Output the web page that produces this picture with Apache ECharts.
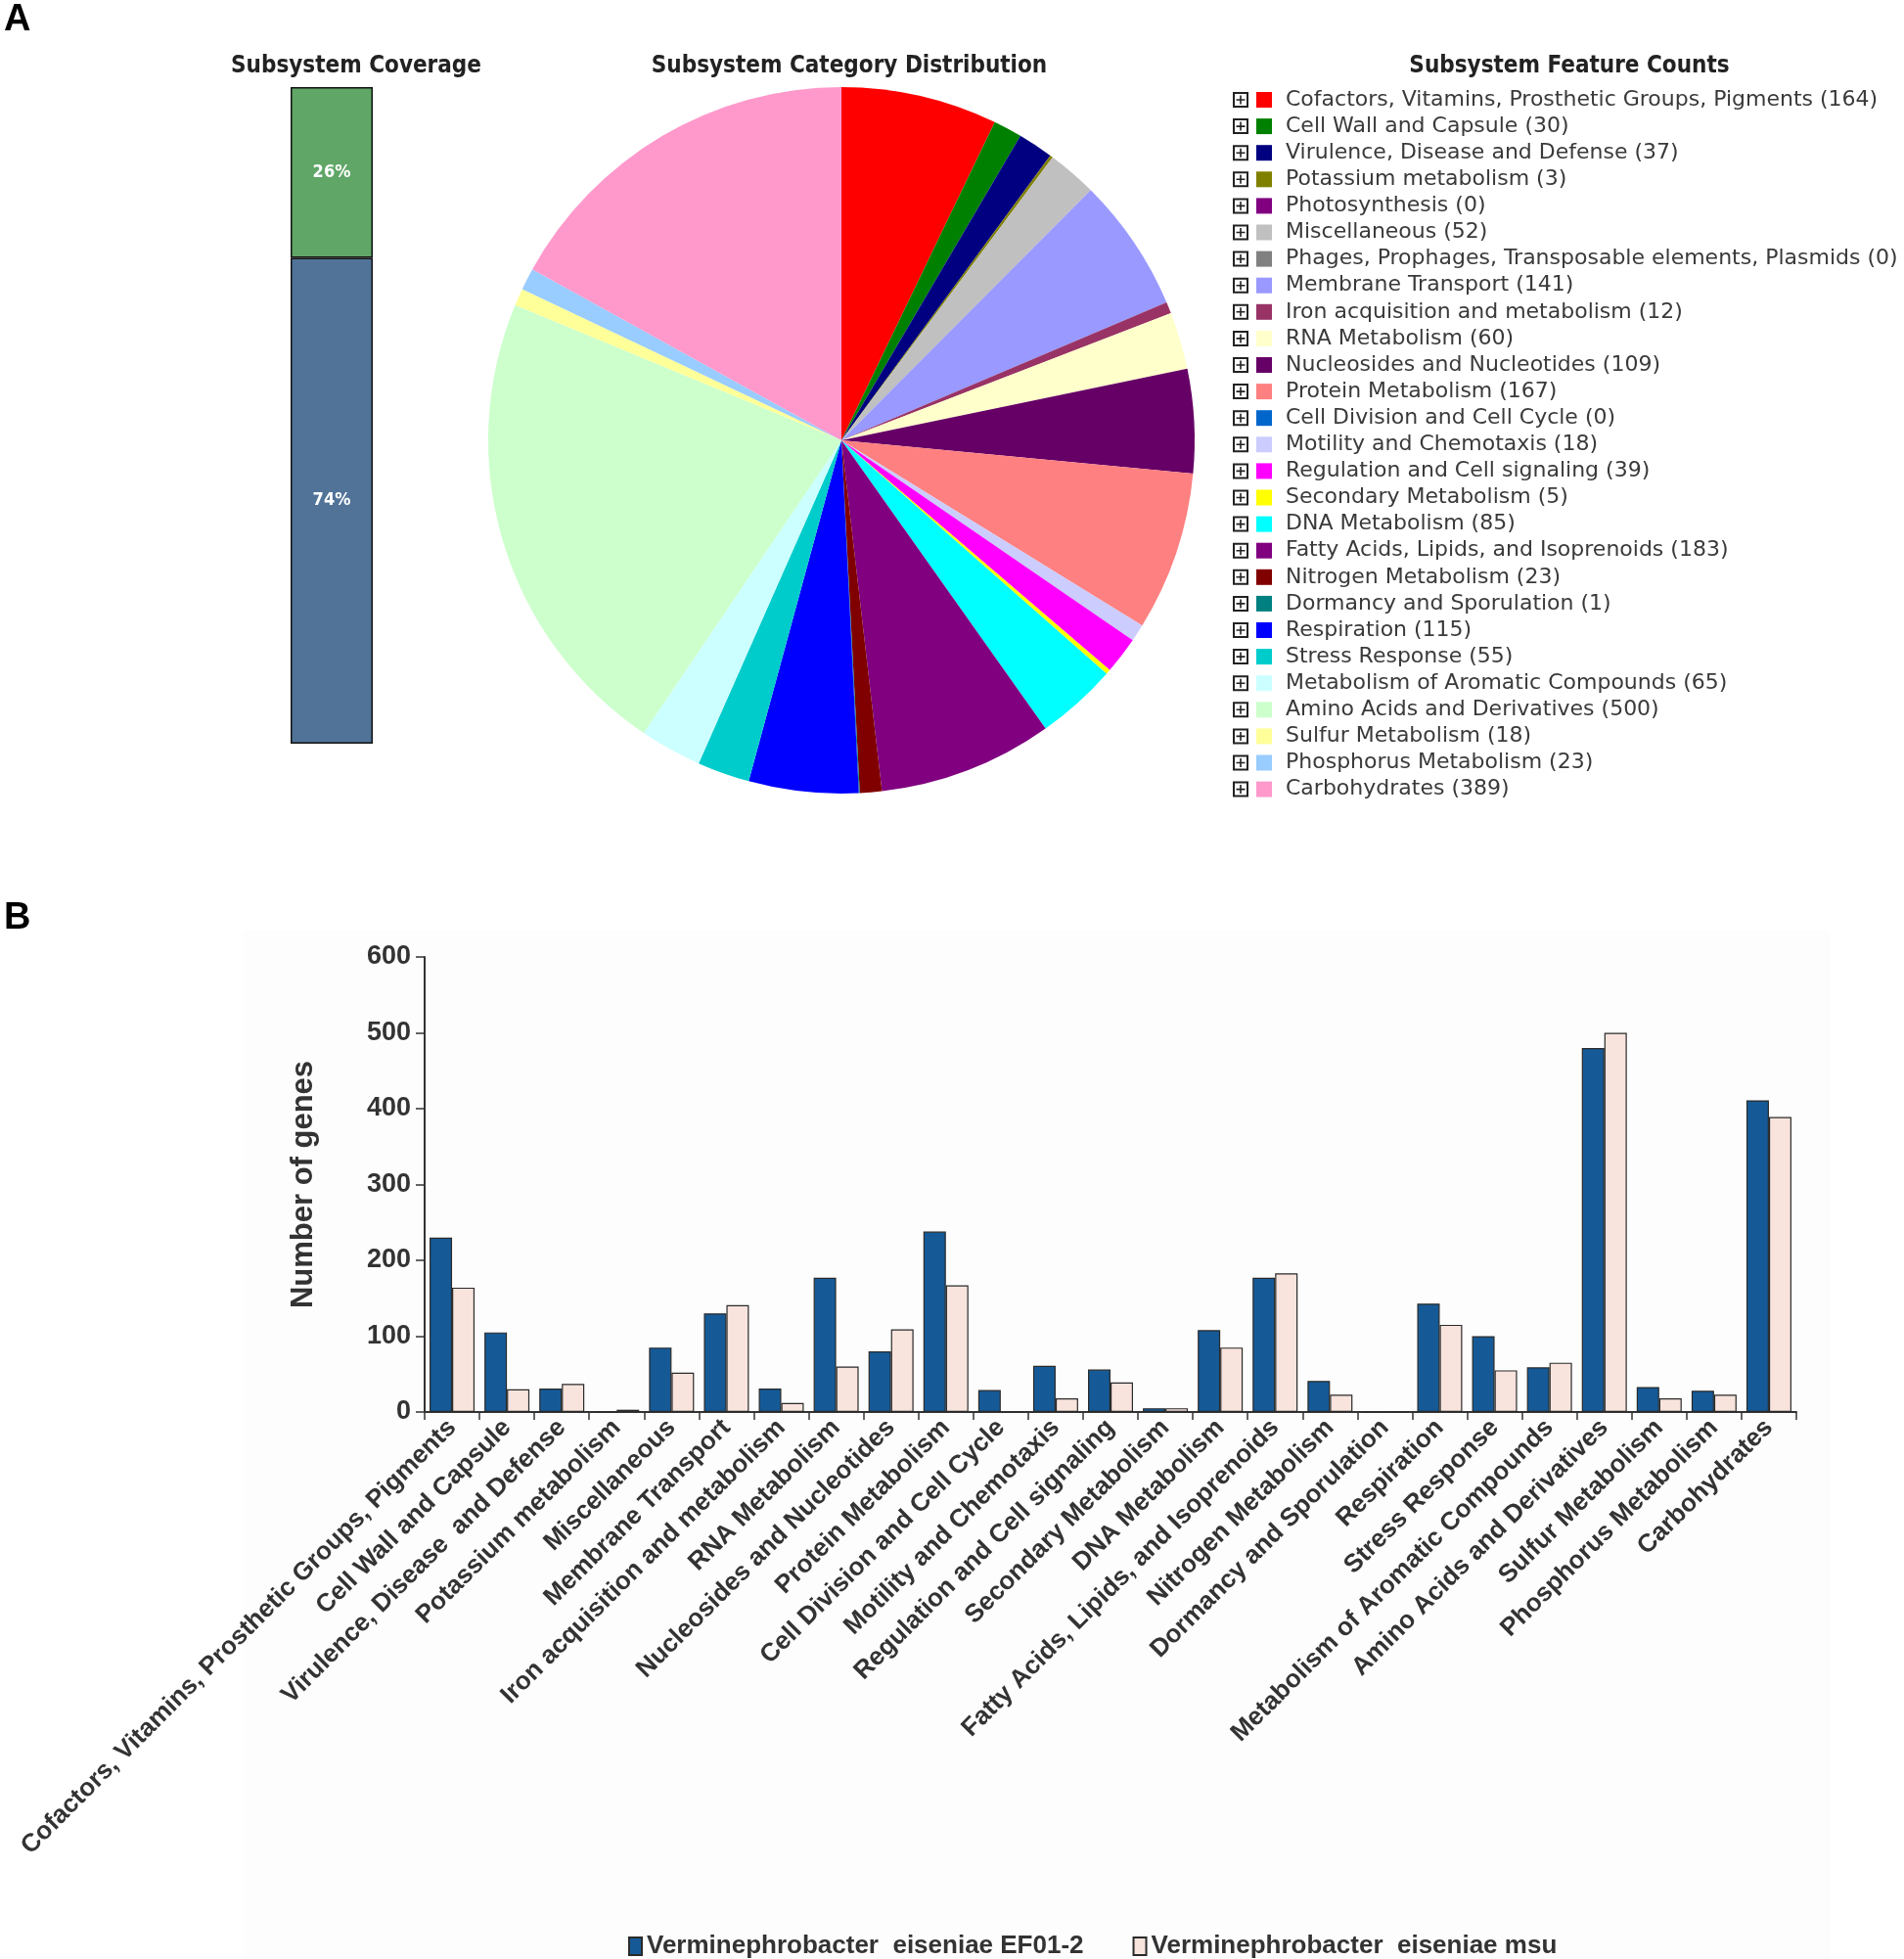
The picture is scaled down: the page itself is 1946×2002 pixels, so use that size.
<!DOCTYPE html>
<html>
<head>
<meta charset="utf-8">
<script src="https://cdn.jsdelivr.net/npm/echarts@6/dist/echarts.min.js"></script>
<style>
html,body{margin:0;padding:0;background:#fff;}
#chart{width:1946px;height:2002px;}
</style>
</head>
<body>
<div id="chart"></div>
<script>
// ---- Panel A: pie categories, counts, colours ----
var pieCategories = [
  'Cofactors, Vitamins, Prosthetic Groups, Pigments','Cell Wall and Capsule','Virulence, Disease and Defense',
  'Potassium metabolism','Photosynthesis','Miscellaneous','Phages, Prophages, Transposable elements, Plasmids',
  'Membrane Transport','Iron acquisition and metabolism','RNA Metabolism','Nucleosides and Nucleotides',
  'Protein Metabolism','Cell Division and Cell Cycle','Motility and Chemotaxis','Regulation and Cell signaling',
  'Secondary Metabolism','DNA Metabolism','Fatty Acids, Lipids, and Isoprenoids','Nitrogen Metabolism',
  'Dormancy and Sporulation','Respiration','Stress Response','Metabolism of Aromatic Compounds',
  'Amino Acids and Derivatives','Sulfur Metabolism','Phosphorus Metabolism','Carbohydrates'
];
var pieCounts = [164,30,37,3,0,52,0,141,12,60,109,167,0,18,39,5,85,183,23,1,115,55,65,500,18,23,389];
var pieColors = ['#FF0000','#008000','#000080','#808000','#800080','#C0C0C0','#808080','#9999FF','#993366',
  '#FFFFCC','#660066','#FF8080','#0066CC','#CCCCFF','#FF00FF','#FFFF00','#00FFFF','#800080','#800000',
  '#008080','#0000FF','#00CCCC','#CCFFFF','#CCFFCC','#FFFF99','#99CCFF','#FF99CC'];

// ---- Panel A: subsystem coverage ----
var coverageNames = ['Not in subsystems','In subsystems'];
var coverageValues = [74, 26];
var coverageColors = ['#517398','#5FA667'];

// ---- Panel B: bar chart ----
var barCategories = [
  'Cofactors, Vitamins, Prosthetic Groups, Pigments','Cell Wall and Capsule','Virulence, Disease  and Defense',
  'Potassium metabolism','Miscellaneous','Membrane Transport','Iron acquisition and metabolism','RNA Metabolism',
  'Nucleosides and Nucleotides','Protein Metabolism','Cell Division and Cell Cycle','Motility and Chemotaxis',
  'Regulation and Cell signaling','Secondary Metabolism','DNA Metabolism','Fatty Acids, Lipids, and Isoprenoids',
  'Nitrogen Metabolism','Dormancy and Sporulation','Respiration','Stress Response',
  'Metabolism of Aromatic Compounds','Amino Acids and Derivatives','Sulfur Metabolism','Phosphorus Metabolism','Carbohydrates'
];
var seriesNames = ['Verminephrobacter  eiseniae EF01-2','Verminephrobacter  eiseniae msu'];
var ef01Values = [230,105,31,0,85,130,31,177,80,238,29,61,56,5,108,177,41,0,143,100,59,480,33,28,411];
var msuValues  = [164,30,37,3,52,141,12,60,109,167,0,18,39,5,85,183,23,1,115,55,65,500,18,23,389];
var yTicks = [0,100,200,300,400,500,600];

var chart = echarts.init(document.getElementById('chart'), null, {renderer:'canvas'});

var pieData = pieCategories.map(function(n,i){
  return {name:n, value:pieCounts[i], itemStyle:{color:pieColors[i]}};
});
var countMap = {};
pieCategories.forEach(function(n,i){countMap[n]=pieCounts[i];});

var plusIcon = 'path://M0,0H16V16H0Z M2,2V14H14V2Z M3.5,7.2H12.5V8.8H3.5Z M7.2,3.5H8.8V12.5H7.2Z';
var arial = '"Liberation Sans", Arial, Helvetica, sans-serif';
var titleFont = 'bold 24px "DejaVu Sans Condensed", "DejaVu Sans", sans-serif';

var option = {
  backgroundColor:'#ffffff',
  animation:false,
  graphic:[
    {type:'rect', z:-10, shape:{x:249, y:951, width:1622, height:1051}, style:{fill:'#FDFDFD'}, silent:true},
    {type:'text', left:4, top:2, style:{text:'A', font:'bold 38px ' + arial, fill:'#000'}},
    {type:'text', left:4, top:920, style:{text:'B', font:'bold 38px ' + arial, fill:'#000'}},
    {type:'text', x:364, y:68, style:{text:'Subsystem Coverage', font:titleFont, fill:'#222', align:'center', verticalAlign:'middle'}},
    {type:'text', x:868, y:68, style:{text:'Subsystem Category Distribution', font:titleFont, fill:'#222', align:'center', verticalAlign:'middle'}},
    {type:'text', x:1604, y:68, style:{text:'Subsystem Feature Counts', font:titleFont, fill:'#222', align:'center', verticalAlign:'middle'}}
  ],
  legend:[
    {
      seriesIndex:0,
      data:pieCategories,
      orient:'vertical', left:1284, top:91, padding:0,
      itemWidth:16, itemHeight:16, itemGap:5.1,
      icon:'rect', selectedMode:false,
      textStyle:{fontFamily:'"DejaVu Sans", Verdana, sans-serif', fontSize:22, color:'#3a3a3a', lineHeight:22, padding:[0,0,0,9]},
      formatter:function(n){return n+' ('+countMap[n]+')';}
    },
    {
      data:pieCategories,
      orient:'vertical', left:1260, top:94, padding:0,
      itemWidth:16, itemHeight:16, itemGap:11.1,
      icon:plusIcon, selectedMode:false,
      itemStyle:{color:'#222', borderWidth:0},
      textStyle:{fontSize:1, lineHeight:16},
      formatter:function(){return '';}
    },
    {
      data:seriesNames,
      orient:'horizontal', left:642, top:1976, padding:0,
      itemWidth:13, itemHeight:18, itemGap:50,
      icon:'rect', selectedMode:false,
      textStyle:{fontFamily:arial, fontWeight:'bold', fontSize:26, color:'#333'}
    }
  ],
  grid:[
    {left:297, top:89, width:84, height:671},
    {left:434, top:978, width:1402, height:465}
  ],
  xAxis:[
    {gridIndex:0, type:'category', data:['Coverage'], show:false},
    {gridIndex:1, type:'category', data:barCategories,
     axisLine:{show:true, lineStyle:{color:'#333', width:2}},
     axisTick:{show:true, interval:0, length:8, lineStyle:{color:'#333', width:1.5}},
     axisLabel:{interval:0, rotate:45, margin:12, color:'#333', fontFamily:arial,
       fontWeight:'bold', fontSize:26}
    }
  ],
  yAxis:[
    {gridIndex:0, type:'value', min:0, max:100, show:false},
    {gridIndex:1, type:'value', min:0, max:600, interval:100,
     name:'Number of genes', nameLocation:'middle', nameGap:108,
     nameTextStyle:{fontFamily:arial, fontWeight:'bold', fontSize:31, color:'#333'},
     axisLine:{show:true, lineStyle:{color:'#333', width:2}},
     axisTick:{show:true, length:9, lineStyle:{color:'#333', width:1.5}},
     splitLine:{show:false},
     axisLabel:{margin:14, color:'#333', fontFamily:arial, fontWeight:'bold', fontSize:27,
       formatter:function(v){return yTicks.indexOf(v)>=0 ? String(v) : '';}}
    }
  ],
  series:[
    {
      type:'pie', center:[860,450], radius:361, startAngle:90, clockwise:true,
      data:pieData, label:{show:false}, labelLine:{show:false},
      itemStyle:{borderWidth:0}, emphasis:{disabled:true}, silent:true, avoidLabelOverlap:false
    },
    {
      type:'bar', name:coverageNames[0], xAxisIndex:0, yAxisIndex:0, stack:'cov', barWidth:'100%',
      data:[coverageValues[0]], itemStyle:{color:coverageColors[0], borderColor:'#111', borderWidth:1.5},
      label:{show:true, position:'inside', formatter:'{c}%', color:'#fff', fontFamily:'"DejaVu Sans Condensed", sans-serif', fontWeight:'bold', fontSize:18},
      silent:true
    },
    {
      type:'bar', name:coverageNames[1], xAxisIndex:0, yAxisIndex:0, stack:'cov', barWidth:'100%',
      data:[coverageValues[1]], itemStyle:{color:coverageColors[1], borderColor:'#111', borderWidth:1.5},
      label:{show:true, position:'inside', formatter:'{c}%', color:'#fff', fontFamily:'"DejaVu Sans Condensed", sans-serif', fontWeight:'bold', fontSize:18},
      silent:true
    },
    {
      type:'bar', name:seriesNames[0], xAxisIndex:1, yAxisIndex:1, data:ef01Values,
      barGap:'0%', barCategoryGap:'18%',
      itemStyle:{color:'#155A97', borderColor:'#2a2a2a', borderWidth:1.2}
    },
    {
      type:'bar', name:seriesNames[1], xAxisIndex:1, yAxisIndex:1, data:msuValues,
      barGap:'0%', barCategoryGap:'18%',
      itemStyle:{color:'#F8E4DD', borderColor:'#2a2a2a', borderWidth:1.2}
    }
  ]
};
chart.setOption(option);
</script>
</body>
</html>
